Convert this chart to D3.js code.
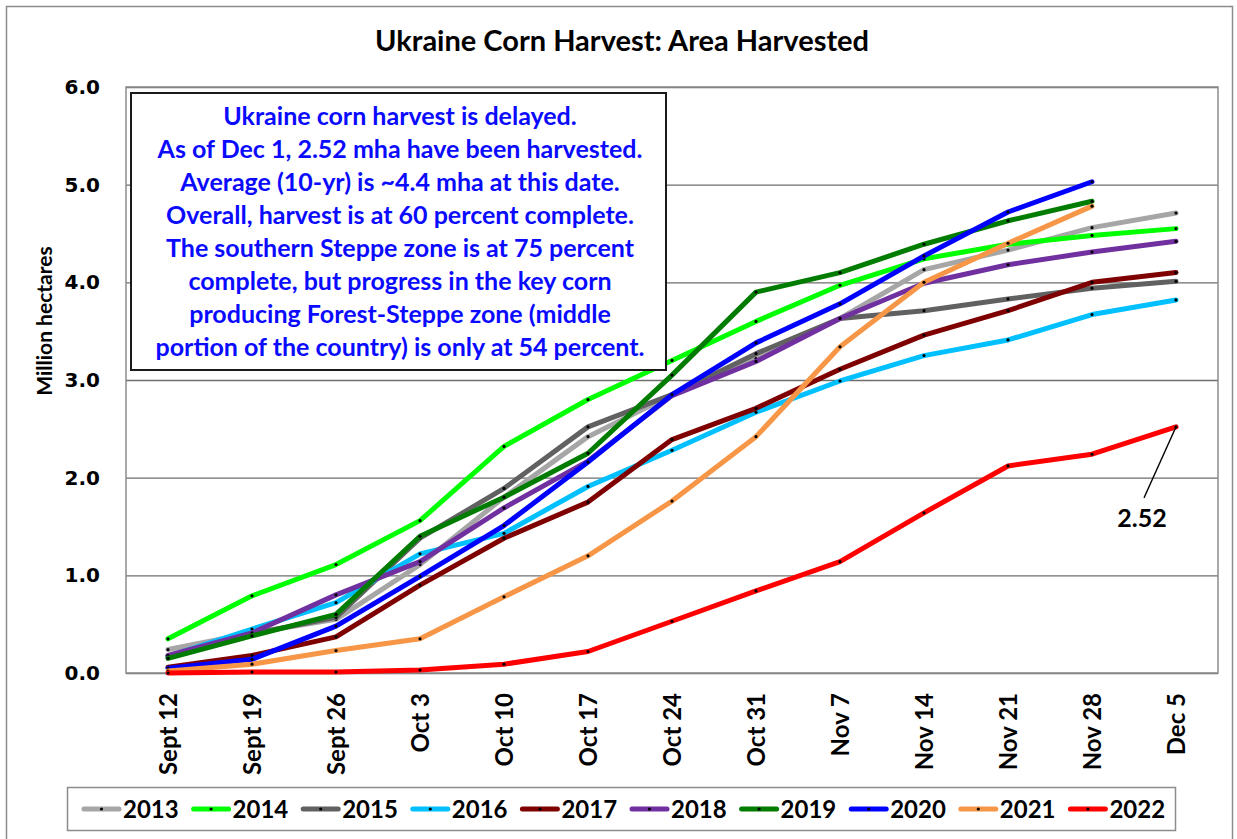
<!DOCTYPE html>
<html>
<head>
<meta charset="utf-8">
<script src="https://cdn.jsdelivr.net/npm/d3@7"></script>
<style>
  body { margin: 0; background: #fff; }
  svg { display: block; }
</style>
</head>
<body>
<svg id="chart" width="1237" height="839"></svg>
<script>
// categories (weekly dates)
const categories = ['Sept 12', 'Sept 19', 'Sept 26', 'Oct 3', 'Oct 10', 'Oct 17', 'Oct 24',
  'Oct 31', 'Nov 7', 'Nov 14', 'Nov 21', 'Nov 28', 'Dec 5'];

// area harvested, million hectares
const y2013 = [0.24, 0.41, 0.55, 1.11, 1.80, 2.42, 2.85, 3.22, 3.63, 4.13, 4.33, 4.56, 4.71];
const y2014 = [0.35, 0.79, 1.11, 1.56, 2.32, 2.80, 3.20, 3.60, 3.97, 4.24, 4.39, 4.48, 4.55];
const y2015 = [0.17, 0.40, 0.57, 1.38, 1.89, 2.52, 2.85, 3.27, 3.63, 3.71, 3.83, 3.94, 4.01];
const y2016 = [0.17, 0.45, 0.72, 1.22, 1.43, 1.91, 2.28, 2.67, 2.99, 3.25, 3.41, 3.67, 3.82];
const y2017 = [0.06, 0.18, 0.37, 0.90, 1.38, 1.75, 2.39, 2.71, 3.11, 3.46, 3.71, 4.00, 4.10];
const y2018 = [0.18, 0.41, 0.80, 1.14, 1.69, 2.17, 2.84, 3.19, 3.63, 3.99, 4.18, 4.31, 4.42];
const y2019 = [0.15, 0.38, 0.60, 1.40, 1.80, 2.25, 3.05, 3.90, 4.10, 4.39, 4.63, 4.83];
const y2020 = [0.05, 0.14, 0.48, 0.99, 1.51, 2.16, 2.85, 3.38, 3.78, 4.27, 4.72, 5.03];
const y2021 = [0.02, 0.09, 0.23, 0.35, 0.78, 1.20, 1.76, 2.42, 3.34, 4.00, 4.40, 4.78];
const y2022 = [0.00, 0.01, 0.01, 0.03, 0.09, 0.22, 0.53, 0.84, 1.14, 1.64, 2.12, 2.24, 2.52];

const years = ['2013', '2014', '2015', '2016', '2017', '2018', '2019', '2020', '2021', '2022'];
const values = [y2013, y2014, y2015, y2016, y2017, y2018, y2019, y2020, y2021, y2022];
const colors = ['#a6a6a6', '#00ff00', '#616161', '#00c0ff', '#7f0000', '#7030a0',
  '#007d00', '#0000ff', '#f79646', '#ff0000'];

const yTicks = [0, 1, 2, 3, 4, 5, 6];

const noteLines = [
  'Ukraine corn harvest is delayed.',
  'As of Dec 1, 2.52 mha have been harvested.',
  'Average (10-yr) is ~4.4 mha at this date.',
  'Overall, harvest is at 60 percent complete.',
  'The southern Steppe zone is at 75 percent',
  'complete, but progress in the key corn',
  'producing Forest-Steppe zone (middle',
  'portion of the country) is only at 54 percent.'
];

const series = years.map((yr, i) => ({
  year: yr,
  color: colors[i],
  points: values[i].map((v, j) => ({ cat: categories[j], v: v }))
}));

// layout
const margin = { top: 87, right: 19, bottom: 166, left: 126 };
const W = 1237, H = 839;
const width = W - margin.left - margin.right;
const height = H - margin.top - margin.bottom;

const svg = d3.select('#chart');
const calibri = 'Lato, "Open Sans", sans-serif';

// outer chart frame
svg.append('rect')
  .attr('x', 6.5).attr('y', 6.5)
  .attr('width', 1226).attr('height', 845)
  .attr('fill', 'none').attr('stroke', '#8c8c8c').attr('stroke-width', 1.5);

// title
svg.append('text')
  .attr('x', 622).attr('y', 51)
  .attr('text-anchor', 'middle')
  .style('font-family', calibri).style('font-weight', 'bold').style('font-size', '29px')
  .text('Ukraine Corn Harvest: Area Harvested');

const g = svg.append('g')
  .attr('transform', 'translate(' + margin.left + ',' + margin.top + ')');

const x = d3.scalePoint().domain(categories).range([0, width]).padding(0.5);
const y = d3.scaleLinear().domain([0, 6]).range([height, 0]);

// gridlines
g.append('g')
  .call(d3.axisLeft(y).tickValues(yTicks).tickSize(-width).tickFormat(''))
  .call(a => a.select('.domain').remove())
  .call(a => a.selectAll('line').attr('stroke', '#6e6e6e').attr('stroke-width', 1.3));

// plot border
g.append('rect')
  .attr('width', width).attr('height', height)
  .attr('fill', 'none').attr('stroke', '#8c8c8c').attr('stroke-width', 1.5);

// y axis labels
g.append('g')
  .call(d3.axisLeft(y).tickValues(yTicks).tickFormat(d3.format('.1f')).tickSize(0).tickPadding(26))
  .call(a => a.select('.domain').remove())
  .call(a => a.selectAll('text')
    .style('font-family', '"DejaVu Sans", Verdana, sans-serif')
    .style('font-weight', 'bold').style('font-size', '20px').attr('fill', '#000'));

// y axis title
svg.append('text')
  .attr('transform', 'translate(52,321) rotate(-90)')
  .attr('text-anchor', 'middle')
  .style('font-family', calibri).style('font-weight', 'bold').style('font-size', '21px')
  .text('Million hectares');

// x axis labels
g.append('g')
  .attr('transform', 'translate(0,' + height + ')')
  .call(d3.axisBottom(x).tickSize(0))
  .call(a => a.select('.domain').remove())
  .call(a => a.selectAll('text')
    .attr('transform', 'rotate(-90)')
    .attr('x', -20).attr('y', 0).attr('dy', '0.36em')
    .attr('text-anchor', 'end')
    .style('font-family', calibri).style('font-weight', 'bold').style('font-size', '24px')
    .attr('fill', '#000'));

// lines
const line = d3.line().x(d => x(d.cat)).y(d => y(d.v));

const sg = g.selectAll('.series')
  .data(series)
  .enter().append('g');

sg.append('path')
  .attr('d', d => line(d.points))
  .attr('fill', 'none')
  .attr('stroke', d => d.color)
  .attr('stroke-width', 5)
  .attr('stroke-linejoin', 'round')
  .attr('stroke-linecap', 'round');

sg.selectAll('circle')
  .data(d => d.points)
  .enter().append('circle')
  .attr('cx', d => x(d.cat))
  .attr('cy', d => y(d.v))
  .attr('r', 1.6)
  .attr('fill', '#000');

// 2.52 callout
const last = series[9].points[12];
g.append('line')
  .attr('x1', x(last.cat)).attr('y1', y(last.v))
  .attr('x2', x(last.cat) - 32).attr('y2', y(last.v) + 71)
  .attr('stroke', '#000').attr('stroke-width', 1.3);
g.append('text')
  .attr('x', x(last.cat) - 34).attr('y', y(last.v) + 100)
  .attr('text-anchor', 'middle')
  .style('font-family', calibri).style('font-weight', 'bold').style('font-size', '25px')
  .text(d3.format('.2f')(last.v));

// annotation box
const note = svg.append('g');
note.append('rect')
  .attr('x', 131).attr('y', 93)
  .attr('width', 535).attr('height', 277)
  .attr('fill', '#fff').attr('stroke', '#1a1a1a').attr('stroke-width', 2);
note.selectAll('text')
  .data(noteLines)
  .enter().append('text')
  .attr('x', 400)
  .attr('y', (d, i) => 125 + i * 33)
  .attr('text-anchor', 'middle')
  .style('font-family', calibri).style('font-weight', 'bold').style('font-size', '25px')
  .attr('fill', '#0a0aff')
  .text(d => d);

// legend
const leg = svg.append('g');
leg.append('rect')
  .attr('x', 67.5).attr('y', 787.5)
  .attr('width', 1108).attr('height', 43)
  .attr('fill', '#fff').attr('stroke', '#8c8c8c').attr('stroke-width', 1.5);

const li = leg.selectAll('.li')
  .data(series)
  .enter().append('g')
  .attr('transform', (d, i) => 'translate(' + (84 + i * 109.6) + ',809)');
li.append('line')
  .attr('x1', 0).attr('x2', 35)
  .attr('stroke', d => d.color).attr('stroke-width', 5).attr('stroke-linecap', 'round');
li.append('circle').attr('cx', 17.5).attr('r', 1.6).attr('fill', '#000');
li.append('text')
  .attr('x', 39).attr('dy', '0.36em')
  .style('font-family', calibri).style('font-weight', 'bold').style('font-size', '24px')
  .text(d => d.year);
</script>
</body>
</html>
